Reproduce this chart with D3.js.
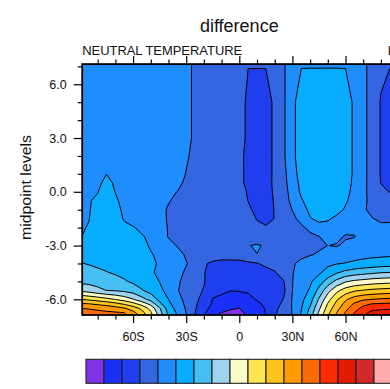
<!DOCTYPE html>
<html>
<head>
<meta charset="utf-8">
<script src="https://cdn.jsdelivr.net/npm/d3@7"></script>
<style>
  body { margin: 0; background: #fff; }
  svg { display: block; font-family: "Liberation Sans", Arial, Helvetica, sans-serif; }
</style>
</head>
<body>
<svg id="chart" width="390" height="389"></svg>
<script>
// Latitude grid (degrees) and model levels (ln(p0/p)) of the difference field
const lats = [-90,-85,-80,-75,-70,-65,-60,-55,-50,-45,-40,-35,-30,-25,-20,-15,-10,-5,0,
              5,10,15,20,25,30,35,40,45,50,55,60,65,70,75,80,85,90];
const levs = [7.25,5,3,2,1,0.5,0,-0.5,-1,-1.5,-2,-2.5,-3,-3.5,-4,-4.5,-5,-5.5,-6,-6.25,-6.5,-6.75,-7];

// Contour levels (K) and the fill colour of each band between them
const contourLevels = [-35,-30,-25,-20,-15,-10,-5,0,5,10,15,20,25,30,35,40];
const bandColors = ["#8032e6","#1a30f8","#1f3fee","#3366e0","#1e8eff","#08acff","#48bff2","#a0d3ee",
                    "#fbfbc8","#ffe650","#fdc41d","#fd9b00","#fd6b00","#fd2b00","#e51b00","#d22a2a","#ffabab"];

// Axis ticks
const latMajor = [-60,-30,0,30,60];
const latMinor = [-80,-70,-50,-40,-20,-10,10,20,40,50,70,80];
const levMajor = [-6,-3,0,3,6];
const levMinor = [-5,-4,-2,-1,1,2,4,5,7];

// Neutral temperature difference (K), one row per level in `levs`, one column per latitude in `lats`
const tempDiff = [
  /* 7.25 */ [-17,-17,-17,-17,-17,-17,-17,-17,-17,-17,-17.2,-17.5,-17.75,-21.5,-22.5,-22.5,-22.5,-22,-21.1,-24.6,-24.4,-24.6,-24.1,-20.8,-16,-15.4,-15.55,-15.65,-15.65,-15.55,-15.4,-15.7,-18.5,-22.25,-24,-24.6,-24.6],
  /* 5    */ [-17,-17,-17,-17,-17,-17,-17,-17,-17,-17,-17.2,-17.5,-17.75,-21.5,-22.5,-22.5,-22.5,-22,-21.1,-27,-28,-27,-24.1,-20.8,-16,-13,-12,-11.5,-11.5,-12,-13,-15.7,-18.5,-22.25,-25.3,-27,-27.5],
  /* 3    */ [-17,-17,-17,-17,-17,-17,-17,-17,-17,-17,-17.2,-17.5,-17.75,-21.5,-22.5,-22.5,-22.5,-22,-21.1,-27,-28,-27,-24.1,-20.8,-16,-13,-12,-11.5,-11.5,-12,-13,-15.7,-18.5,-22.25,-25.3,-27,-27.5],
  /* 2    */ [-17,-17,-17,-17,-17,-17,-17,-17,-17,-17,-17.2,-17.5,-19.3,-21.5,-22.5,-22.5,-22.5,-22.3,-23.15,-27,-28,-27,-24.1,-20.8,-16,-13,-12,-11.5,-11.5,-12,-13,-15.7,-18.5,-22.25,-25.3,-27,-27.5],
  /* 1    */ [-17,-17,-16.5,-15.05,-16,-16.8,-17,-17,-17,-17,-17.2,-17.8,-20.2,-21.8,-22.5,-22.5,-22.5,-22.3,-23,-27,-28,-27,-24.1,-21.5,-16.5,-13.5,-12,-11.5,-11.5,-12,-13,-15.7,-18.5,-22.25,-25.3,-27,-27.5],
  /* 0.5  */ [-17,-16.8,-15.8,-14,-15.5,-16.5,-17,-17,-17,-17,-17.5,-18.6,-21,-22,-22.5,-22.5,-22.5,-22.5,-23,-27,-28,-27,-24,-21.8,-17,-14,-12.2,-11.6,-11.6,-12.2,-13.5,-15.8,-18.5,-22.3,-25.1,-26.5,-27],
  /* 0    */ [-17,-16.5,-15.1,-13.5,-15.1,-16.5,-17,-17,-17,-17.5,-18.8,-20.1,-21.5,-22.2,-22.5,-22.5,-22.5,-22.5,-23,-25.5,-28,-27,-24.3,-22,-18,-14.2,-12.4,-11.8,-11.8,-12.4,-14,-16,-18.5,-22.3,-24.3,-25.1,-25.3],
  /* -0.5 */ [-16.5,-15.2,-14.5,-13.5,-14.5,-16,-16.8,-17,-17,-17.8,-19.7,-21,-22,-22.5,-22.5,-22.5,-22.5,-22.5,-23,-25.1,-27.5,-27,-24.6,-22,-18.8,-15.5,-13,-12,-12,-13,-14.5,-16.5,-18.5,-22,-23,-23.5,-23.5],
  /* -1   */ [-16,-15.1,-14.5,-13.5,-14.2,-15.5,-16.5,-17,-17.2,-18.6,-20.5,-21.5,-22,-22.5,-22.5,-22.5,-22.5,-22.5,-23,-24,-26.5,-26.8,-24.8,-22,-19.9,-17,-14,-12.5,-12.5,-13.5,-15.5,-17.5,-19.2,-21.5,-22.5,-23,-23],
  /* -1.5 */ [-15.5,-15.05,-14.3,-13.5,-14,-15.2,-16.2,-17,-17.5,-18.8,-20.4,-21.5,-22,-22.5,-22.5,-22.5,-22.5,-22.5,-23,-23.5,-25.2,-26.2,-24.9,-22,-20.8,-19,-15.3,-14,-14.5,-16,-17,-18,-19,-19.7,-21.2,-21.5,-21.5],
  /* -2   */ [-15.2,-14.9,-14.2,-13.5,-13.8,-14.5,-14.8,-15.6,-16.5,-18,-20.3,-21.5,-22,-22.5,-22.5,-22.5,-22.5,-22.5,-23,-23.3,-24.2,-24.6,-23.8,-22.5,-21.5,-20.6,-19.2,-16.5,-16.5,-17.5,-18.5,-19.2,-19.6,-19,-18.5,-18,-18],
  /* -2.5 */ [-15.1,-14.6,-14.2,-13.8,-13.6,-13.8,-14.1,-14.8,-15.5,-17.5,-20.3,-21.5,-22,-22.5,-22.5,-22.5,-22.5,-22.5,-22.5,-22.3,-24,-22,-22,-22,-21.5,-21,-20.7,-20.1,-18.5,-19,-20.4,-20.15,-19,-18,-17.5,-17,-17],
  /* -3   */ [-13,-13.3,-13.5,-13.5,-13.5,-13.6,-13.9,-14.3,-15.3,-17,-18.3,-20.3,-21.5,-22.3,-22.5,-22.5,-22.5,-22.3,-22,-20.3,-19.3,-20.8,-22,-22,-21.8,-21.5,-21.2,-20.8,-19.95,-20.3,-19.3,-18.5,-17.8,-17.2,-16.8,-16.5,-16.5],
  /* -3.5 */ [-12.5,-12.8,-13,-13.2,-13.3,-13.5,-13.8,-14.2,-14.8,-15.6,-17,-18.6,-20.5,-22,-23,-23.5,-23.5,-23.5,-23.3,-22,-20.1,-21.5,-22,-21.8,-21.5,-21,-20.3,-19.5,-18.8,-18,-17.5,-17,-16.5,-16.2,-16,-15.8,-15.8],
  /* -4   */ [-9.75,-10.3,-11,-11.5,-12,-12.5,-13,-13.6,-14.3,-15.4,-17,-18.3,-19.8,-21.3,-24.7,-25.5,-26,-26,-26,-25.7,-25.2,-24,-23,-22,-20.5,-19,-18,-17,-16,-15.3,-14.8,-14.1,-13.5,-13,-12.6,-12.3,-12],
  /* -4.5 */ [-8,-8.3,-9,-9.8,-10.6,-11.3,-12,-12.8,-14.5,-15.8,-17.5,-19,-20.5,-23,-24.8,-26.5,-27.5,-28,-28,-27.8,-27.5,-26.5,-25.4,-22.5,-20.2,-18.5,-16.5,-15.8,-13.2,-10.6,-8.7,-7.5,-6.7,-6,-5.3,-5,-4.8],
  /* -5   */ [-6.2,-6.4,-6.9,-7.5,-8.3,-9.5,-10.8,-11.8,-13.5,-15.1,-17.2,-19.5,-21,-23.2,-24.7,-27.5,-28.5,-29,-29,-28.8,-28.5,-28,-27,-25.3,-20.1,-17.5,-15.7,-12.4,-7.9,-3.6,-0.5,0.9,1.7,2.5,2.9,3.3,3.5],
  /* -5.5 */ [-1.1,-2.3,-3.8,-5.1,-5.5,-6.2,-7.4,-9.7,-12,-14.2,-16.2,-19.8,-21.2,-23.5,-25.3,-28.5,-29.3,-29.9,-29.8,-29.6,-29.2,-28.5,-27.5,-26,-20.05,-17,-14.5,-8.6,-1.8,3.6,7.1,9.3,10.2,11,11.5,11.9,12],
  /* -6   */ [10.05,9.1,7.9,6.5,4.8,2.8,0.3,-3.3,-6.7,-11.5,-15.05,-18.8,-21,-24,-26.5,-30.2,-30.8,-31.5,-31.5,-30.8,-29.8,-29,-27.3,-24.8,-19.6,-16.3,-12.1,-4.5,3.1,9.3,14.2,17.4,19.3,20.05,20.6,21,21.2],
  /* -6.25*/ [15.5,15.05,14,12.8,11.3,9.2,6.5,2.9,-1.7,-8.9,-13.8,-18,-20.8,-24.3,-27,-30.5,-32,-33,-33,-31.5,-30.5,-29.5,-27,-24,-19.6,-15.8,-10.9,-2.7,5.3,11.3,16.5,20.6,23.6,25.05,25.4,25.7,25.8],
  /* -6.5 */ [20.05,19.6,18.9,18.2,17,15.4,12.6,8.6,3.2,-4.5,-12.5,-16.8,-20.5,-24.6,-28,-31.8,-33.5,-34.6,-35.1,-32.5,-31,-29.8,-26,-23.5,-19.7,-15.3,-9.3,-1,7,13.2,18.5,22.9,26.4,28.3,28.9,29.2,29.3],
  /* -6.75*/ [22,21.8,21.4,20.9,20.6,20.1,16.5,11.8,5.8,-3,-11.3,-15.7,-20.1,-24.9,-29,-33.5,-35.05,-35.8,-36.5,-33.5,-31.5,-29.9,-25.6,-23,-19.8,-14.8,-8.2,0.7,8.6,15.1,20.4,25.1,28.4,31.6,32.4,32.6,32.7],
  /* -7   */ [23.8,23.5,23,22.5,21.8,21,18.8,13.8,7,-1.4,-10.1,-15.1,-19.2,-25.2,-30.5,-35.1,-36,-37,-37.5,-34.5,-32,-30.5,-25.2,-22.8,-19.9,-14.2,-7,2,10.2,16,21.2,26,30.4,34.5,35.5,36,36]
];

const svg = d3.select("#chart");
const font = "'Liberation Sans', Arial, Helvetica, sans-serif";

// Plot area
const x = d3.scaleLinear().domain([-88.75, 88.75]).range([82.2, 396.4]);
const y = d3.scaleLinear().domain([-6.875, 7.125]).range([315, 64.1]);
const [x0, x1] = x.range();
const [y0, y1] = [y.range()[1], y.range()[0]];

svg.append("defs").append("clipPath").attr("id", "plotClip")
  .append("rect").attr("x", x0).attr("y", y0).attr("width", x1 - x0).attr("height", y1 - y0);

// Grid index -> coordinates (node i sits at i + 0.5 in contour space)
const nx = lats.length, ny = levs.length;
const idxLat = d3.scaleLinear().domain([0, nx - 1]).range([lats[0], lats[nx - 1]]);
const idxLev = d3.scaleLinear().domain(d3.range(ny)).range(levs);
const toScreen = d3.geoTransform({
  point(px, py) { this.stream.point(x(idxLat(px - 0.5)), y(idxLev(py - 0.5))); }
});
const path = d3.geoPath(toScreen);

const bands = d3.contours().size([nx, ny]).thresholds(contourLevels)(tempDiff.flat());

const plot = svg.append("g").attr("clip-path", "url(#plotClip)");
plot.append("rect").attr("x", x0).attr("y", y0).attr("width", x1 - x0).attr("height", y1 - y0)
  .attr("fill", bandColors[0]);
plot.append("g").selectAll("path").data(bands).join("path")
  .attr("d", path)
  .attr("fill", (d, i) => bandColors[i + 1]);
plot.append("g").selectAll("path").data(bands).join("path")
  .attr("d", path)
  .attr("fill", "none")
  .attr("stroke", "#000")
  .attr("stroke-width", 1)
  .attr("stroke-linejoin", "round");

// Axes
const fmtLat = d => d === 0 ? "0" : Math.abs(d) + (d < 0 ? "S" : "N");
const fmtLev = d => d.toFixed(1);

function styleAxis(g) {
  g.select(".domain").remove();
  g.selectAll("line").attr("stroke", "#000").attr("stroke-width", 1.2);
  g.selectAll("text").attr("font-family", font).attr("font-size", 12.5).attr("fill", "#111");
}

svg.append("g").attr("transform", `translate(0,${y1})`)
  .call(d3.axisBottom(x).tickValues(latMajor).tickFormat(fmtLat).tickSize(8).tickPadding(9))
  .call(styleAxis);
svg.append("g").attr("transform", `translate(0,${y1})`)
  .call(d3.axisBottom(x).tickValues(latMinor).tickFormat("").tickSize(4.5))
  .call(styleAxis);
svg.append("g").attr("transform", `translate(0,${y0})`)
  .call(d3.axisTop(x).tickValues(latMajor).tickFormat("").tickSize(8))
  .call(styleAxis);
svg.append("g").attr("transform", `translate(0,${y0})`)
  .call(d3.axisTop(x).tickValues(latMinor).tickFormat("").tickSize(4.5))
  .call(styleAxis);

svg.append("g").attr("transform", `translate(${x0},0)`)
  .call(d3.axisLeft(y).tickValues(levMajor).tickFormat(fmtLev).tickSize(8.5).tickPadding(7))
  .call(styleAxis);
svg.append("g").attr("transform", `translate(${x0},0)`)
  .call(d3.axisLeft(y).tickValues(levMinor).tickFormat("").tickSize(4.5))
  .call(styleAxis);

// Frame
svg.append("rect").attr("x", x0).attr("y", y0).attr("width", x1 - x0).attr("height", y1 - y0)
  .attr("fill", "none").attr("stroke", "#000").attr("stroke-width", 1.8);

// Titles
svg.append("text").attr("x", (x0 + x1) / 2).attr("y", 32).attr("text-anchor", "middle")
  .attr("font-family", font).attr("font-size", 18).attr("fill", "#111").text("difference");
svg.append("text").attr("x", x0).attr("y", 55)
  .attr("font-family", font).attr("font-size", 13).attr("fill", "#111")
  .attr("textLength", 160).attr("lengthAdjust", "spacingAndGlyphs")
  .text("NEUTRAL TEMPERATURE");
svg.append("text").attr("x", x1).attr("y", 55).attr("text-anchor", "end")
  .attr("font-family", font).attr("font-size", 13).attr("fill", "#111").text("K");
svg.append("text")
  .attr("transform", `translate(31,${(y0 + y1) / 2 - 2}) rotate(-90)`)
  .attr("text-anchor", "middle")
  .attr("font-family", font).attr("font-size", 15).attr("fill", "#111")
  .attr("textLength", 105).attr("lengthAdjust", "spacingAndGlyphs")
  .text("midpoint levels");

// Label bar
const cb = d3.scaleLinear().domain([0, bandColors.length]).range([86, 86 + 18 * bandColors.length]);
const cbTop = 359.3, cbH = 24;
const bar = svg.append("g");
bar.selectAll("rect").data(bandColors).join("rect")
  .attr("x", (d, i) => cb(i)).attr("y", cbTop)
  .attr("width", cb(1) - cb(0)).attr("height", cbH)
  .attr("fill", d => d)
  .attr("stroke", "#222").attr("stroke-width", 1.1);
bar.selectAll("text").data(contourLevels).join("text")
  .attr("x", (d, i) => cb(i + 1)).attr("y", 397.5)
  .attr("text-anchor", "middle")
  .attr("font-family", font).attr("font-size", 11).attr("fill", "#111")
  .text(d => String(d));
</script>
</body>
</html>
